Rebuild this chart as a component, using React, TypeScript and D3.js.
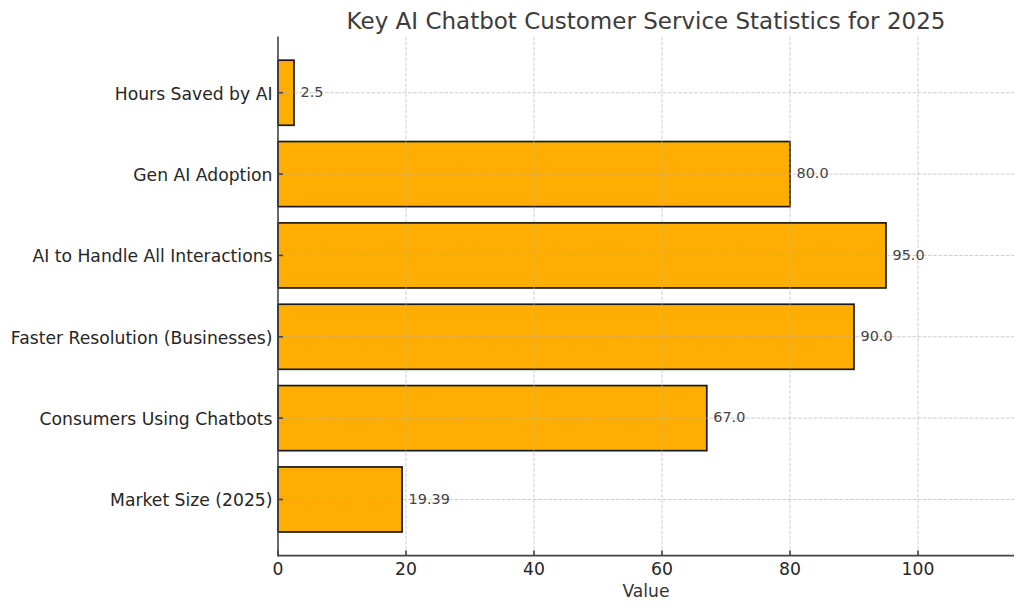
import React from "react";
import * as d3 from "d3";

const categories = [
  "Hours Saved by AI",
  "Gen AI Adoption",
  "AI to Handle All Interactions",
  "Faster Resolution (Businesses)",
  "Consumers Using Chatbots",
  "Market Size (2025)",
];
const seriesValues = [2.5, 80, 95, 90, 67, 19.39];
const valueLabels = ["2.5", "80.0", "95.0", "90.0", "67.0", "19.39"];
const xTicks = [0, 20, 40, 60, 80, 100];
const titleText = "Key AI Chatbot Customer Service Statistics for 2025";
const xAxisLabel = "Value";

const WIDTH = 1024;
const HEIGHT = 611;
const plot = { left: 278, right: 1014, top: 36.6, bottom: 555.6 };
const FONT = "'DejaVu Sans', sans-serif";

export default function App() {
  const x = d3.scaleLinear().domain([0, 115]).range([plot.left, plot.right]);
  const y = d3
    .scaleBand<string>()
    .domain(categories)
    .range([plot.top, plot.bottom])
    .paddingInner(0.2)
    .paddingOuter(0.29);
  const bw = y.bandwidth();
  const mid = (c: string) => (y(c) as number) + bw / 2;

  return (
    <svg
      width={WIDTH}
      height={HEIGHT}
      viewBox={`0 0 ${WIDTH} ${HEIGHT}`}
      style={{ position: "absolute", left: 0, top: 0, display: "block", background: "#fff" }}
      fontFamily={FONT}
    >
      {categories.map((c, i) => (
        <rect
          key={c}
          x={x(0)}
          y={y(c)}
          width={x(seriesValues[i]) - x(0)}
          height={bw}
          fill="#ffae00"
          stroke="#1a1a1a"
          strokeWidth={1.7}
        />
      ))}

      <g stroke="#b0b0b0" strokeOpacity={0.7} strokeWidth={0.9} strokeDasharray="3.6 1.6">
        {xTicks.slice(1).map((t) => (
          <line key={t} x1={x(t)} x2={x(t)} y1={plot.top} y2={plot.bottom} />
        ))}
        {categories.map((c) => (
          <line key={c} x1={plot.left} x2={plot.right} y1={mid(c)} y2={mid(c)} />
        ))}
      </g>

      <g stroke="#444" strokeWidth={1.6}>
        <line x1={plot.left} x2={plot.left} y1={plot.top} y2={plot.bottom + 0.8} />
        <line x1={plot.left} x2={plot.right} y1={plot.bottom} y2={plot.bottom} />
        {xTicks.map((t) => (
          <line key={t} x1={x(t)} x2={x(t)} y1={plot.bottom} y2={plot.bottom - 5} />
        ))}
        {categories.map((c) => (
          <line key={c} x1={plot.left} x2={plot.left + 5} y1={mid(c)} y2={mid(c)} />
        ))}
      </g>

      {xTicks.map((t) => (
        <text key={t} x={x(t)} y={575} textAnchor="middle" fontSize={17.2} fill="#262626">
          {t}
        </text>
      ))}
      {categories.map((c) => (
        <text key={c} x={272.5} y={mid(c) + 0.7} dy="0.36em" textAnchor="end" fontSize={17.2} fill="#262626">
          {c}
        </text>
      ))}
      {categories.map((c, i) => (
        <text
          key={c}
          x={x(seriesValues[i]) + 6.5}
          y={mid(c) - 1}
          dy="0.36em"
          fontSize={14.4}
          fill="#444"
        >
          {valueLabels[i]}
        </text>
      ))}

      <text x={646} y={29} textAnchor="middle" fontSize={23} fill="#3c3c3c">
        {titleText}
      </text>
      <text x={646} y={597} textAnchor="middle" fontSize={17.2} fill="#333">
        {xAxisLabel}
      </text>
    </svg>
  );
}
